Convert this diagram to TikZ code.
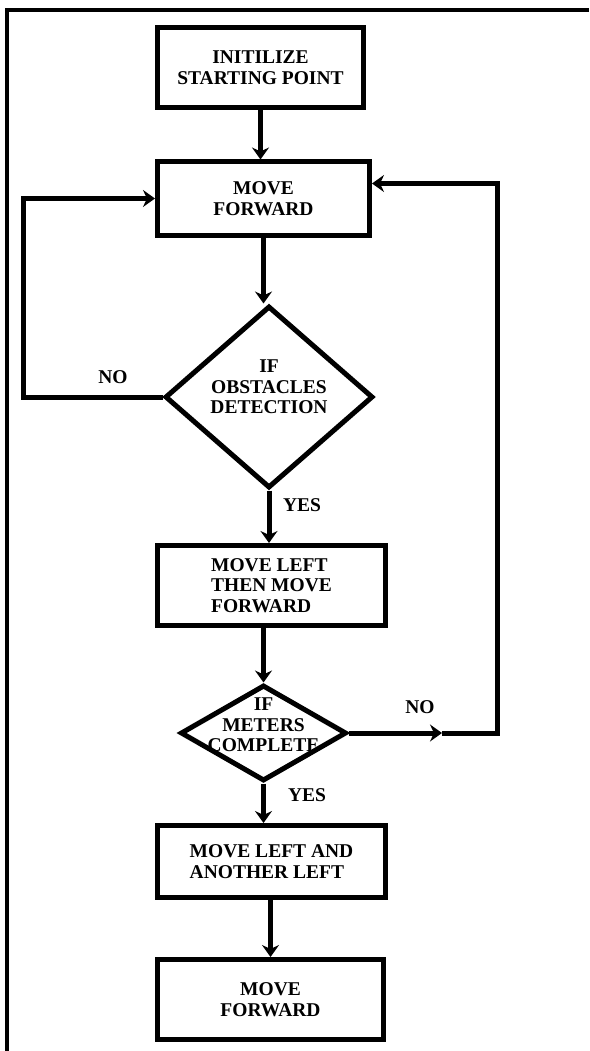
\documentclass[tikz,border=0pt]{standalone}
\usepackage{fontspec}
\setmainfont{Liberation Serif}
\usepackage{tikz}
\usetikzlibrary{arrows}
\usetikzlibrary{shapes.geometric, arrows, arrows.meta, calc}
\tikzstyle{arrow} = [line width=5pt,->,>={Stealth[length=12pt,width=17pt,inset=4pt]}]
\tikzstyle{txt} = [font=\bfseries\fontsize{19.5}{20.5}\selectfont, align=center]
\tikzstyle{block} = [rectangle, draw, line width=5pt, txt]
\tikzstyle{decision} = [diamond, draw, line width=5pt, inner sep=0pt, aspect=1]

\begin{document}
\begin{tikzpicture}[x=1pt,y=-1pt]
\useasboundingbox (0,0) rectangle (589,1051);
\draw [line width=4pt] (7,1051) -- (7,10.5) -- (589,10.5);

\node [block, minimum width=206pt, minimum height=80pt] (init) at (260.5,67.5) {INITILIZE\\STARTING POINT};
\node [block, minimum width=212pt, minimum height=73pt] (fwd) at (263.5,198.5) {MOVE\\FORWARD};
\node [decision, minimum width=208pt, minimum height=182pt,
  label={[txt,yshift=10pt]center:{IF\\OBSTACLES\\DETECTION}}] (obst) at (269,397) {};
\node [block, align=left, minimum width=228pt, minimum height=80pt] (left) at (271.5,585.5) {MOVE LEFT\\THEN MOVE\\FORWARD};
\node [decision, minimum width=166pt, minimum height=96pt,
  label={[txt,yshift=8pt]center:{IF\\METERS\\COMPLETE}}] (meters) at (263.5,733) {};
\node [block, align=left, minimum width=228pt, minimum height=72pt] (turn) at (271.5,861.5) {MOVE LEFT AND\\ANOTHER LEFT};
\node [block, minimum width=226pt, minimum height=80pt] (last) at (270.5,999.5) {MOVE\\FORWARD};

\node [txt] (no1) at (113,377) {NO};
\node [txt] (yes1) at (302,505) {YES};
\node [txt] (no2) at (420,707) {NO};
\node [txt] (yes2) at (307,795) {YES};

\coordinate (lbend) at (23,397);
\coordinate (nomid) at (442,733);
\coordinate (rbend) at (497,733);

\draw [arrow] (init.south) -- (init.south |- fwd.north);
\draw [arrow] (fwd.south) -- (fwd.south |- obst.north);
\draw [arrow] (obst.south) -- (obst.south |- left.north);
\draw [arrow] (meters.north |- left.south) -- (meters.north);
\draw [arrow] (meters.south) -- (meters.south |- turn.north);
\draw [arrow] (last.north |- turn.south) -- (last.north);
\draw [arrow] (obst.west) -- (lbend) |- (fwd.west);
\draw [arrow] (meters.east) -- (nomid);
\draw [arrow] (nomid) -- (rbend) |- ($(fwd.east)+(0,-15)$);
\end{tikzpicture}
\end{document}
